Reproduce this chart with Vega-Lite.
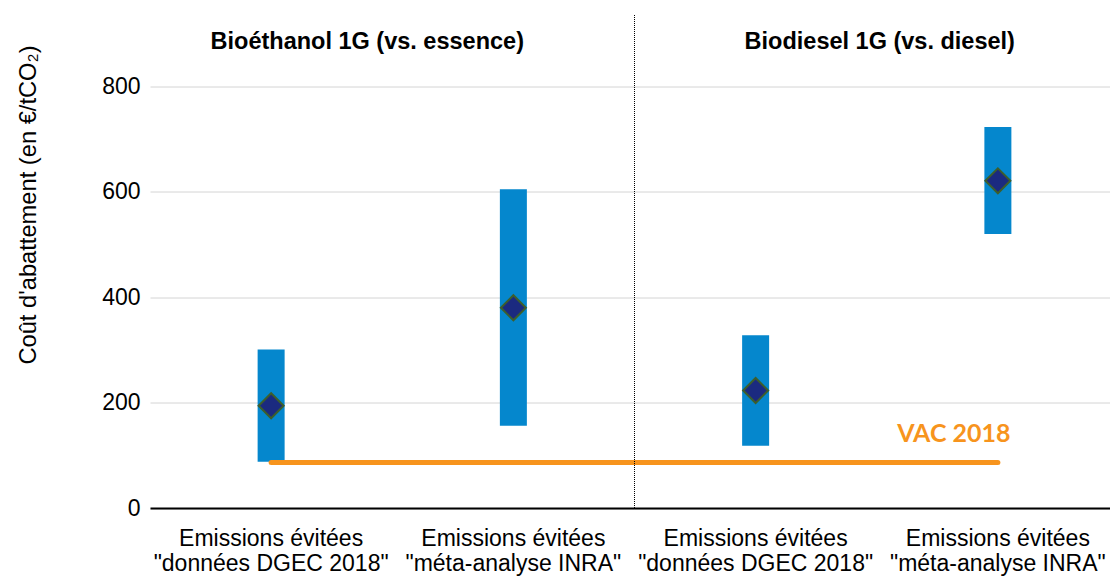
{
  "$schema": "https://vega.github.io/schema/vega-lite/v6.json",
  "autosize": "none",
  "width": 969,
  "height": 421.5,
  "padding": {"left": 150, "top": 86.5, "right": 0, "bottom": 69},
  "background": "white",
  "config": {
    "view": {"stroke": null},
    "font": "Liberation Sans",
    "axis": {"labelFont": "Liberation Sans", "titleFont": "Liberation Sans", "labelColor": "#000000", "titleColor": "#000000"}
  },
  "datasets": {
    "ranges": [
      {"cat": "A1", "low": 88, "high": 301, "mid": 194},
      {"cat": "A2", "low": 156, "high": 605, "mid": 380},
      {"cat": "B1", "low": 118, "high": 328, "mid": 223},
      {"cat": "B2", "low": 520, "high": 723, "mid": 621}
    ],
    "vac": [
      {"cat": "A1", "vac": 86.2, "label": "VAC 2018"},
      {"cat": "B2", "vac": 86.2, "label": "VAC 2018"}
    ],
    "titles": [
      {"cat": "A2", "y": 885, "title": "Bioéthanol 1G (vs. essence)"},
      {"cat": "B2", "y": 885, "title": "Biodiesel 1G (vs. diesel)"}
    ],
    "sep": [
      {"cat": "B1", "y0": 0, "y1": 937}
    ]
  },
  "encoding": {
    "x": {
      "field": "cat",
      "type": "nominal",
      "sort": ["A1", "A2", "B1", "B2"],
      "scale": {"domain": ["A1", "A2", "B1", "B2"], "paddingInner": 0, "paddingOuter": 0},
      "axis": {
        "title": null,
        "labelAngle": 0,
        "labelFontSize": 23,
        "labelLineHeight": 25,
        "labelPadding": 19,
        "labelBaseline": "top",
        "labelLimit": 0,
        "labelOverlap": false,
        "labelBound": false,
        "labelFlush": false,
        "ticks": false,
        "domainColor": "#000000",
        "domainWidth": 2,
        "grid": false,
        "labelExpr": "(datum.value == 'A1' || datum.value == 'B1') ? ['Emissions évitées', '\"données DGEC 2018\"'] : ['Emissions évitées', '\"méta-analyse INRA\"']"
      }
    }
  },
  "layer": [
    {
      "data": {"name": "ranges"},
      "mark": {"type": "bar", "width": 27, "color": "#0587cd"},
      "encoding": {
        "y": {
          "field": "low",
          "type": "quantitative",
          "scale": {"domain": [0, 800], "nice": false},
          "axis": {
            "values": [0, 200, 400, 600, 800],
            "title": "Coût d'abattement (en €/tCO₂)",
            "titleFontSize": 23.7,
            "titleFontWeight": "normal",
            "titleAngle": -90,
            "titleAlign": "center",
            "titleBaseline": "middle",
            "titleX": -122,
            "titleY": 118,
            "labelFontSize": 23,
            "labelPadding": 10,
            "ticks": false,
            "domain": false,
            "gridColor": "#d4d4d4",
            "gridWidth": 1
          }
        },
        "y2": {"field": "high"}
      }
    },
    {
      "data": {"name": "vac"},
      "mark": {"type": "line", "color": "#f7941d", "strokeWidth": 5, "strokeCap": "round"},
      "encoding": {
        "y": {"field": "vac", "type": "quantitative"}
      }
    },
    {
      "data": {"name": "ranges"},
      "mark": {"type": "point", "shape": "diamond", "filled": true, "size": 625, "fill": "#1b2a80", "stroke": "#3d5e2c", "strokeWidth": 2, "opacity": 1},
      "encoding": {
        "y": {"field": "mid", "type": "quantitative"}
      }
    },
    {
      "data": {"name": "vac"},
      "transform": [{"filter": "datum.cat == 'B2'"}],
      "mark": {"type": "text", "font": "Lato", "fontWeight": "bold", "fontSize": 25, "color": "#f7941d", "align": "center", "baseline": "alphabetic", "dx": -44, "dy": -21},
      "encoding": {
        "y": {"field": "vac", "type": "quantitative"},
        "text": {"field": "label"}
      }
    },
    {
      "data": {"name": "sep"},
      "mark": {"type": "rule", "color": "#000000", "strokeWidth": 1, "strokeDash": [1, 1], "clip": false},
      "encoding": {
        "x": {"field": "cat", "type": "nominal", "bandPosition": 0},
        "y": {"field": "y0", "type": "quantitative"},
        "y2": {"field": "y1"}
      }
    },
    {
      "data": {"name": "titles"},
      "transform": [{"filter": "datum.cat == 'A2'"}],
      "mark": {"type": "text", "fontWeight": "bold", "fontSize": 23.5, "color": "#000000", "align": "center", "baseline": "middle", "dx": -25},
      "encoding": {
        "x": {"field": "cat", "type": "nominal", "bandPosition": 0},
        "y": {"field": "y", "type": "quantitative"},
        "text": {"field": "title"}
      }
    },
    {
      "data": {"name": "titles"},
      "transform": [{"filter": "datum.cat == 'B2'"}],
      "mark": {"type": "text", "fontWeight": "bold", "fontSize": 23.5, "color": "#000000", "align": "center", "baseline": "middle", "dx": 3},
      "encoding": {
        "x": {"field": "cat", "type": "nominal", "bandPosition": 0},
        "y": {"field": "y", "type": "quantitative"},
        "text": {"field": "title"}
      }
    }
  ]
}
